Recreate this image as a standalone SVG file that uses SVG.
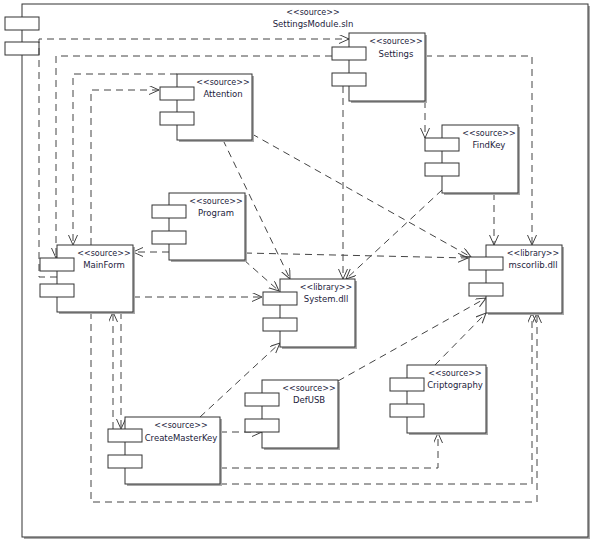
<svg xmlns="http://www.w3.org/2000/svg" width="594" height="541" viewBox="0 0 594 541">
<style>
.sh{fill:#a9a9a9}
.bd{fill:#fff;stroke:#333;stroke-width:1}
.pt{fill:#fff;stroke:#333;stroke-width:1}
.st{font-family:"DejaVu Sans",sans-serif;font-size:8px;fill:#1c1c3c;text-anchor:middle}
.nm{font-family:"DejaVu Sans",sans-serif;font-size:8.5px;fill:#1c1c3c;text-anchor:middle}
.cn{fill:none;stroke:#444;stroke-width:1;stroke-dasharray:7,5;marker-end:url(#ah)}
.cx{fill:none;stroke:#444;stroke-width:1;stroke-dasharray:7,5}
</style>
<defs>
<marker id="ah" markerUnits="userSpaceOnUse" markerWidth="12" markerHeight="10" refX="10" refY="4.5" orient="auto">
<path d="M0,0 L10,4.5 L0,9" fill="none" stroke="#444" stroke-width="1"/>
</marker>
</defs>
<rect width="594" height="541" fill="#fff"/>

<g id="container">
<rect class="sh" x="24" y="6" width="566" height="533"/>
<rect class="bd" x="22" y="4" width="566" height="533"/>
<rect class="pt" x="5" y="17" width="34" height="13"/>
<rect class="pt" x="5" y="42" width="34" height="13"/>
<text class="st" x="313" y="15">&lt;&lt;source&gt;&gt;</text>
<text class="nm" x="313" y="27">SettingsModule.sln</text>
</g>

<g id="connectors">
<path class="cn" d="M57,277 H39 V39 H349"/>
<path class="cn" d="M332,56 H56 V258"/>
<path class="cn" d="M177,74 H73 V245"/>
<path class="cn" d="M91,245 V90 H159"/>
<path class="cn" d="M425,56 H532 V245"/>
<path class="cn" d="M425,101 V138"/>
<path class="cn" d="M343,86 V279"/>
<path class="cn" d="M494,193 V245"/>
<path class="cn" d="M442,190 L346,279"/>
<path class="cn" d="M252,134 L471,257"/>
<path class="cn" d="M223,140 L290,279"/>
<path class="cn" d="M169,252 H133"/>
<path class="cn" d="M245,253 L468,258"/>
<path class="cn" d="M244,260 L279,291"/>
<path class="cn" d="M133,297 H262"/>
<path class="cn" d="M113,429 V312"/>
<path class="cn" d="M121,312 V429"/>
<path class="cn" d="M91,312 V502 H537 V313"/>
<path class="cn" d="M220,484 H532 V313"/>
<path class="cn" d="M220,468 H438 V433"/>
<path class="cn" d="M220,432 H262"/>
<path class="cn" d="M200,417 L280,343"/>
<path class="cn" d="M338,381 L486,298"/>
<path class="cn" d="M435,365 L486,313"/>
</g>

<g id="settings">
<rect class="sh" x="351" y="35" width="76" height="68"/>
<rect class="bd" x="349" y="33" width="76" height="68"/>
<rect class="pt" x="332" y="47" width="34" height="13"/>
<rect class="pt" x="332" y="73" width="34" height="13"/>
<text class="st" x="396" y="44">&lt;&lt;source&gt;&gt;</text>
<text class="nm" x="396" y="57">Settings</text>
</g>

<g id="attention">
<rect class="sh" x="179" y="76" width="75" height="66"/>
<rect class="bd" x="177" y="74" width="75" height="66"/>
<rect class="pt" x="160" y="87" width="34" height="13"/>
<rect class="pt" x="160" y="112" width="34" height="13"/>
<text class="st" x="223" y="85">&lt;&lt;source&gt;&gt;</text>
<text class="nm" x="223" y="97">Attention</text>
</g>

<g id="findkey">
<rect class="sh" x="444" y="127" width="76" height="68"/>
<rect class="bd" x="442" y="125" width="76" height="68"/>
<rect class="pt" x="425" y="138" width="34" height="13"/>
<rect class="pt" x="425" y="163" width="34" height="13"/>
<text class="st" x="489" y="136">&lt;&lt;source&gt;&gt;</text>
<text class="nm" x="489" y="148">FindKey</text>
</g>

<g id="program">
<rect class="sh" x="171" y="195" width="76" height="67"/>
<rect class="bd" x="169" y="193" width="76" height="67"/>
<rect class="pt" x="152" y="205" width="34" height="13"/>
<rect class="pt" x="152" y="231" width="34" height="13"/>
<text class="st" x="216" y="204">&lt;&lt;source&gt;&gt;</text>
<text class="nm" x="216" y="216">Program</text>
</g>

<g id="mainform">
<rect class="sh" x="59" y="247" width="76" height="67"/>
<rect class="bd" x="57" y="245" width="76" height="67"/>
<rect class="pt" x="40" y="258" width="34" height="13"/>
<rect class="pt" x="40" y="284" width="34" height="13"/>
<text class="st" x="104" y="256">&lt;&lt;source&gt;&gt;</text>
<text class="nm" x="104" y="268">MainForm</text>
</g>

<g id="system-dll">
<rect class="sh" x="282" y="281" width="75" height="68"/>
<rect class="bd" x="280" y="279" width="75" height="68"/>
<rect class="pt" x="263" y="292" width="34" height="13"/>
<rect class="pt" x="263" y="318" width="34" height="13"/>
<text class="st" x="326" y="290">&lt;&lt;library&gt;&gt;</text>
<text class="nm" x="326" y="302">System.dll</text>
</g>

<g id="mscorlib-dll">
<rect class="sh" x="488" y="247" width="76" height="68"/>
<rect class="bd" x="486" y="245" width="76" height="68"/>
<rect class="pt" x="469" y="257" width="34" height="13"/>
<rect class="pt" x="469" y="283" width="34" height="13"/>
<text class="st" x="533" y="256">&lt;&lt;library&gt;&gt;</text>
<text class="nm" x="533" y="268">mscorlib.dll</text>
</g>

<g id="defusb">
<rect class="sh" x="264" y="382" width="76" height="68"/>
<rect class="bd" x="262" y="380" width="76" height="68"/>
<rect class="pt" x="245" y="393" width="34" height="13"/>
<rect class="pt" x="245" y="419" width="34" height="13"/>
<text class="st" x="309" y="391">&lt;&lt;source&gt;&gt;</text>
<text class="nm" x="309" y="403">DefUSB</text>
</g>

<g id="criptography">
<rect class="sh" x="409" y="367" width="79" height="68"/>
<rect class="bd" x="407" y="365" width="79" height="68"/>
<rect class="pt" x="390" y="378" width="34" height="13"/>
<rect class="pt" x="390" y="404" width="34" height="13"/>
<text class="st" x="455" y="376">&lt;&lt;source&gt;&gt;</text>
<text class="nm" x="455" y="388">Criptography</text>
</g>

<g id="createmasterkey">
<rect class="sh" x="127" y="419" width="95" height="67"/>
<rect class="bd" x="125" y="417" width="95" height="67"/>
<rect class="pt" x="108" y="429" width="34" height="13"/>
<rect class="pt" x="108" y="455" width="34" height="13"/>
<text class="st" x="181" y="428">&lt;&lt;source&gt;&gt;</text>
<text class="nm" x="181" y="441">CreateMasterKey</text>
</g>
</svg>
